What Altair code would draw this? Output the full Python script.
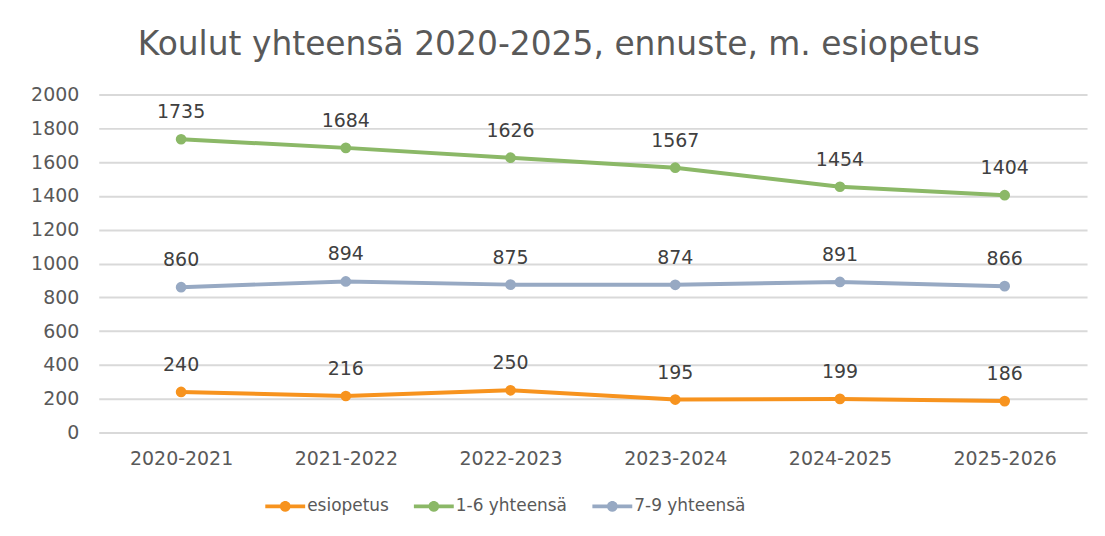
import altair as alt
import pandas as pd

categories = ["2020-2021", "2021-2022", "2022-2023", "2023-2024", "2024-2025", "2025-2026"]
series_names = ["esiopetus", "1-6 yhteensä", "7-9 yhteensä"]
esiopetus = [240, 216, 250, 195, 199, 186]
luokat_1_6 = [1735, 1684, 1626, 1567, 1454, 1404]
luokat_7_9 = [860, 894, 875, 874, 891, 866]
colors = ["#F7931E", "#8BB867", "#97A9C3"]

rows = []
for name, vals in zip(series_names, [esiopetus, luokat_1_6, luokat_7_9]):
    for c, v in zip(categories, vals):
        rows.append({"vuosi": c, "sarja": name, "arvo": v})
df = pd.DataFrame(rows)

FONT = "DejaVu Sans"
legend_symbol = ("M-1,-0.09 L1,-0.09 L1,0.09 L-1,0.09 Z "
                 "M-0.27,0 A0.27,0.27 0 1,1 0.27,0 A0.27,0.27 0 1,1 -0.27,0 Z")

x = alt.X("vuosi:N", sort=categories, title=None,
          scale=alt.Scale(paddingInner=0, paddingOuter=0.5),
          axis=alt.Axis(labelAngle=0, labelFontSize=19, labelColor="#595959",
                        labelPadding=17, ticks=False, domain=False, grid=False,
                        labelFont=FONT))
y = alt.Y("arvo:Q", title=None,
          scale=alt.Scale(domain=[0, 2000]),
          axis=alt.Axis(values=list(range(0, 2001, 200)), format="d",
                        labelFontSize=19, labelColor="#595959", ticks=False,
                        domain=False, gridColor="#D9D9D9", gridWidth=2,
                        labelPadding=20, labelFont=FONT))
color = alt.Color("sarja:N", sort=series_names, title=None,
                  scale=alt.Scale(domain=series_names, range=colors),
                  legend=alt.Legend(orient="none", direction="horizontal",
                                    legendX=167, legendY=393,
                                    symbolType=legend_symbol, symbolSize=1600,
                                    symbolStrokeWidth=0, labelFontSize=17,
                                    labelColor="#595959", labelFont=FONT,
                                    columnPadding=25, labelOffset=2))

base = alt.Chart(df).encode(x=x, y=y)
line = base.mark_line(strokeWidth=4).encode(color=color)
pts = base.mark_circle(size=115, opacity=1).encode(color=color)
labels = base.mark_text(dy=-27, fontSize=19, color="#404040", font=FONT).encode(
    text=alt.Text("arvo:Q"))

chart = (line + pts + labels).properties(
    width=991, height=339,
    title=alt.Title("Koulut yhteensä 2020-2025, ennuste, m. esiopetus",
                    fontSize=33, font=FONT, color="#595959", fontWeight="normal",
                    anchor="middle", frame="bounds", offset=24),
    padding={"left": 22, "top": 20, "right": 10, "bottom": 5},
).configure_view(stroke=None)

chart.save("out.html", embed_options={"renderer": "svg", "actions": False})
